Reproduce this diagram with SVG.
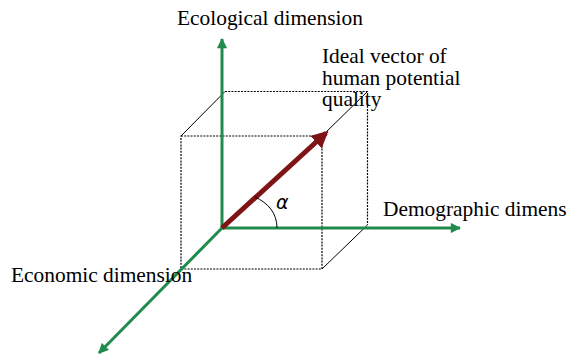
<svg xmlns="http://www.w3.org/2000/svg" width="567" height="356" viewBox="0 0 567 356">
<style>
.lbl{font-family:"Liberation Serif","Times New Roman",serif;font-size:21.4px;fill:#000}
.dot{stroke:#000;stroke-width:1.2;stroke-dasharray:2,1.2;fill:none}
.solid{stroke:#000;stroke-width:1;fill:none}
.axis{stroke:#1f8b4c;stroke-width:3;fill:none}
</style>
<defs>
<marker id="ga" viewBox="0 0 10 10" refX="9" refY="5" markerWidth="3.8" markerHeight="3.4" orient="auto" markerUnits="strokeWidth">
<path d="M0,0 L10,5 L0,10 Z" fill="#1f8b4c"/>
</marker>
<marker id="ra" viewBox="0 0 10 10" refX="8" refY="5" markerWidth="3.4" markerHeight="3.4" orient="auto" markerUnits="strokeWidth">
<path d="M0,0 L10,5 L0,10 Z" fill="#7f1416"/>
</marker>
</defs>
<rect width="567" height="356" fill="#fff"/>
<g id="cube">
<path class="dot" d="M181,136 H322 V269 H181 Z"/>
<path class="dot" d="M225,91.5 H367.5 V225"/>
<path class="solid" d="M181,136 L225,91.5 M322,136 L367.5,91.5 M322,269 L367.5,225"/>
</g>
<g id="connectors">
<line class="axis" x1="222" y1="228" x2="222" y2="39" marker-end="url(#ga)"/>
<line class="axis" x1="222" y1="228" x2="460" y2="228" marker-end="url(#ga)"/>
<line class="axis" x1="222" y1="228" x2="99" y2="353" marker-end="url(#ga)"/>
<line x1="222" y1="228" x2="326" y2="133" stroke="#7f1416" stroke-width="5" marker-end="url(#ra)"/>
<path class="solid" d="M255,197 C268,203 277,213 277,228"/>
</g>
<g id="labels">
<text class="lbl" x="177" y="25">Ecological dimension</text>
<text class="lbl" x="322" y="63">Ideal vector of</text>
<text class="lbl" x="322" y="85">human potential</text>
<text class="lbl" x="322" y="106">quality</text>
<text class="lbl" x="383" y="216">Demographic dimension</text>
<text class="lbl" x="11" y="282">Economic dimension</text>
<text x="276" y="208.5" font-family="DejaVu Sans, sans-serif" font-style="italic" font-size="19">α</text>
</g>
</svg>
